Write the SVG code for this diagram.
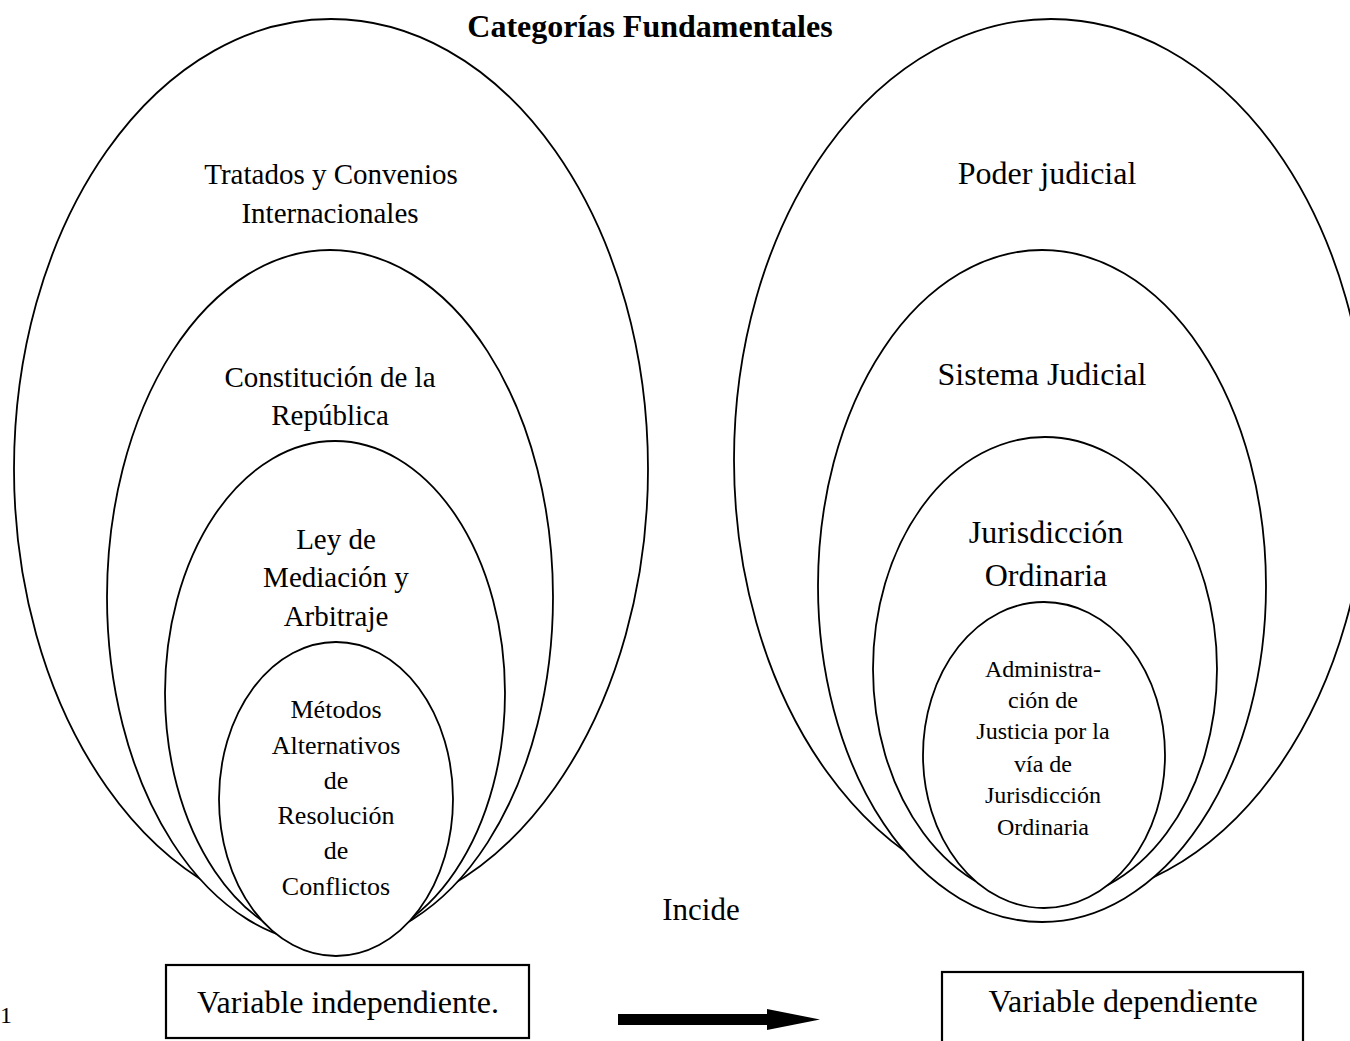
<svg xmlns="http://www.w3.org/2000/svg" width="1350" height="1041" viewBox="0 0 1350 1041">
<style>
  .ell { fill: #ffffff; stroke: #000000; stroke-width: 1.8; }
  .box { fill: #ffffff; stroke: #000000; stroke-width: 2.2; }
  text { font-family: "Liberation Serif", "Times New Roman", serif; fill: #000000; text-anchor: middle; }
  .t29 { font-size: 29px; }
  .t32 { font-size: 32px; }
  .t26 { font-size: 26px; }
  .t24 { font-size: 24px; }
  .title { font-size: 32px; font-weight: bold; }
</style>
<rect x="0" y="0" width="1350" height="1041" fill="#ffffff"/>
<text class="title" x="650" y="37">Categorías Fundamentales</text>

<g id="tratados">
  <ellipse class="ell" cx="331" cy="469" rx="317" ry="450"/>
  <text class="t29" x="331" y="184">Tratados y Convenios</text>
  <text class="t29" x="330" y="223">Internacionales</text>
</g>
<g id="constitucion">
  <ellipse class="ell" cx="330" cy="597" rx="223" ry="347"/>
  <text class="t29" x="330" y="387">Constitución de la</text>
  <text class="t29" x="330" y="425">República</text>
</g>
<g id="ley">
  <ellipse class="ell" cx="335" cy="693" rx="170" ry="252"/>
  <text class="t29" x="336" y="549">Ley de</text>
  <text class="t29" x="336" y="587">Mediación y</text>
  <text class="t29" x="336" y="626">Arbitraje</text>
</g>
<g id="metodos">
  <ellipse class="ell" cx="336" cy="799" rx="117" ry="157"/>
  <text class="t26" x="336" y="718">Métodos</text>
  <text class="t26" x="336" y="754">Alternativos</text>
  <text class="t26" x="336" y="789">de</text>
  <text class="t26" x="336" y="824">Resolución</text>
  <text class="t26" x="336" y="859">de</text>
  <text class="t26" x="336" y="895">Conflictos</text>
</g>

<g id="poder">
  <ellipse class="ell" cx="1051" cy="460" rx="317" ry="441"/>
  <text class="t32" x="1047" y="184">Poder judicial</text>
</g>
<g id="sistema">
  <ellipse class="ell" cx="1042" cy="586" rx="224" ry="336"/>
  <text class="t32" x="1042" y="385">Sistema Judicial</text>
</g>
<g id="jurisdiccion">
  <ellipse class="ell" cx="1045" cy="669" rx="172" ry="232"/>
  <text class="t32" x="1046" y="543">Jurisdicción</text>
  <text class="t32" x="1046" y="586">Ordinaria</text>
</g>
<g id="administracion">
  <ellipse class="ell" cx="1044" cy="755" rx="121" ry="153"/>
  <text class="t24" x="1043" y="677">Administra-</text>
  <text class="t24" x="1043" y="708">ción de</text>
  <text class="t24" x="1043" y="739">Justicia por la</text>
  <text class="t24" x="1043" y="772">vía de</text>
  <text class="t24" x="1043" y="803">Jurisdicción</text>
  <text class="t24" x="1043" y="835">Ordinaria</text>
</g>

<g id="var-independiente">
  <rect class="box" x="166" y="965" width="363" height="73"/>
  <text class="t32" x="348" y="1013">Variable independiente.</text>
</g>
<g id="var-dependiente">
  <rect class="box" x="942" y="972" width="361" height="74"/>
  <text class="t32" x="1123" y="1012">Variable dependiente</text>
</g>

<g id="connectors">
  <text class="t32" x="701" y="920" style="font-size:31px">Incide</text>
  <polygon points="618,1014 767,1014 767,1009 820,1019.5 767,1030 767,1025 618,1025" fill="#000000"/>
</g>

<text x="0" y="1023" style="font-size:24px; text-anchor:start">1</text>
</svg>
